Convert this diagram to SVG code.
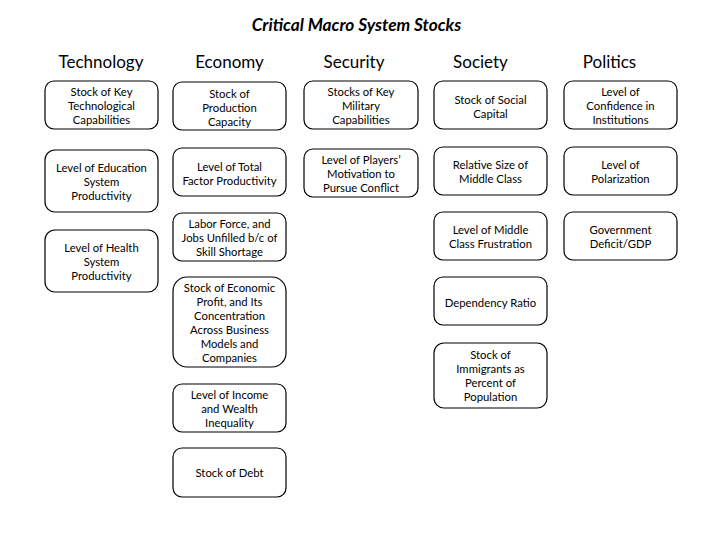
<svg xmlns="http://www.w3.org/2000/svg" width="720" height="540" viewBox="0 0 720 540">
<style>
.bg{fill:#fff}
.box{fill:#fff;stroke:#000;stroke-width:1.2}
.t{font-family:Lato,"Open Sans","Liberation Sans",sans-serif;font-size:11.3px;fill:#000;text-anchor:middle}
.h{font-family:Lato,"Open Sans","Liberation Sans",sans-serif;font-size:17px;fill:#000;text-anchor:middle}
.title{font-family:Lato,"Open Sans","Liberation Sans",sans-serif;font-size:17.3px;font-weight:bold;font-style:italic;fill:#000;text-anchor:middle}
</style>
<rect class="bg" x="0" y="0" width="720" height="540"/>
<text class="title" x="356.5" y="31">Critical Macro System Stocks</text>
<g id="headers">
<text class="h" x="101" y="68">Technology</text>
<text class="h" x="229.5" y="68">Economy</text>
<text class="h" x="354" y="68">Security</text>
<text class="h" x="480.5" y="68">Society</text>
<text class="h" x="609.5" y="68">Politics</text>
</g>
<g id="connectors"></g>
<g id="tech1"><rect class="box" x="45" y="81" width="113" height="48" rx="9"/><text class="t" x="101.5"><tspan x="101.5" y="96">Stock of Key</tspan><tspan x="101.5" y="110">Technological</tspan><tspan x="101.5" y="124">Capabilities</tspan></text></g>
<g id="tech2"><rect class="box" x="45" y="150" width="113" height="62" rx="10"/><text class="t"><tspan x="101.5" y="172">Level of Education</tspan><tspan x="101.5" y="186">System</tspan><tspan x="101.5" y="200">Productivity</tspan></text></g>
<g id="tech3"><rect class="box" x="45" y="230" width="113" height="62" rx="10"/><text class="t"><tspan x="101.5" y="252">Level of Health</tspan><tspan x="101.5" y="266">System</tspan><tspan x="101.5" y="280">Productivity</tspan></text></g>
<g id="econ1"><rect class="box" x="173" y="82" width="113" height="48" rx="9"/><text class="t"><tspan x="229.5" y="98">Stock of</tspan><tspan x="229.5" y="112">Production</tspan><tspan x="229.5" y="126">Capacity</tspan></text></g>
<g id="econ2"><rect class="box" x="173" y="148" width="113" height="48" rx="9"/><text class="t"><tspan x="229.5" y="171">Level of Total</tspan><tspan x="229.5" y="185">Factor Productivity</tspan></text></g>
<g id="econ3"><rect class="box" x="173" y="213" width="113" height="48" rx="9"/><text class="t"><tspan x="229.5" y="228">Labor Force, and</tspan><tspan x="229.5" y="242">Jobs Unfilled b/c of</tspan><tspan x="229.5" y="256">Skill Shortage</tspan></text></g>
<g id="econ4"><rect class="box" x="173" y="277" width="113" height="90" rx="14"/><text class="t"><tspan x="229.5" y="292">Stock of Economic</tspan><tspan x="229.5" y="306">Profit, and Its</tspan><tspan x="229.5" y="320">Concentration</tspan><tspan x="229.5" y="334">Across Business</tspan><tspan x="229.5" y="348">Models and</tspan><tspan x="229.5" y="362">Companies</tspan></text></g>
<g id="econ5"><rect class="box" x="173" y="384" width="113" height="48" rx="9"/><text class="t"><tspan x="229.5" y="399">Level of Income</tspan><tspan x="229.5" y="413">and Wealth</tspan><tspan x="229.5" y="427">Inequality</tspan></text></g>
<g id="econ6"><rect class="box" x="173" y="448" width="113" height="49" rx="9"/><text class="t"><tspan x="229.5" y="477">Stock of Debt</tspan></text></g>
<g id="sec1"><rect class="box" x="304" y="81" width="114" height="48" rx="9"/><text class="t"><tspan x="361" y="96">Stocks of Key</tspan><tspan x="361" y="110">Military</tspan><tspan x="361" y="124">Capabilities</tspan></text></g>
<g id="sec2"><rect class="box" x="304" y="149" width="114" height="48" rx="9"/><text class="t"><tspan x="361" y="164">Level of Players’</tspan><tspan x="361" y="178">Motivation to</tspan><tspan x="361" y="192">Pursue Conflict</tspan></text></g>
<g id="soc1"><rect class="box" x="434" y="81" width="113" height="48" rx="9"/><text class="t"><tspan x="490.5" y="104">Stock of Social</tspan><tspan x="490.5" y="118">Capital</tspan></text></g>
<g id="soc2"><rect class="box" x="434" y="147" width="113" height="48" rx="9"/><text class="t"><tspan x="490.5" y="169">Relative Size of</tspan><tspan x="490.5" y="183">Middle Class</tspan></text></g>
<g id="soc3"><rect class="box" x="434" y="212" width="113" height="48" rx="9"/><text class="t"><tspan x="490.5" y="234">Level of Middle</tspan><tspan x="490.5" y="248">Class Frustration</tspan></text></g>
<g id="soc4"><rect class="box" x="434" y="277" width="113" height="48" rx="9"/><text class="t"><tspan x="490.5" y="307">Dependency Ratio</tspan></text></g>
<g id="soc5"><rect class="box" x="434" y="343" width="113" height="65" rx="10"/><text class="t"><tspan x="490.5" y="359">Stock of</tspan><tspan x="490.5" y="373">Immigrants as</tspan><tspan x="490.5" y="387">Percent of</tspan><tspan x="490.5" y="401">Population</tspan></text></g>
<g id="pol1"><rect class="box" x="564" y="81" width="113" height="48" rx="9"/><text class="t"><tspan x="620.5" y="96">Level of</tspan><tspan x="620.5" y="110">Confidence in</tspan><tspan x="620.5" y="124">Institutions</tspan></text></g>
<g id="pol2"><rect class="box" x="564" y="147" width="113" height="48" rx="9"/><text class="t"><tspan x="620.5" y="169">Level of</tspan><tspan x="620.5" y="183">Polarization</tspan></text></g>
<g id="pol3"><rect class="box" x="564" y="212" width="113" height="48" rx="9"/><text class="t"><tspan x="620.5" y="234">Government</tspan><tspan x="620.5" y="248">Deficit/GDP</tspan></text></g>
</svg>
